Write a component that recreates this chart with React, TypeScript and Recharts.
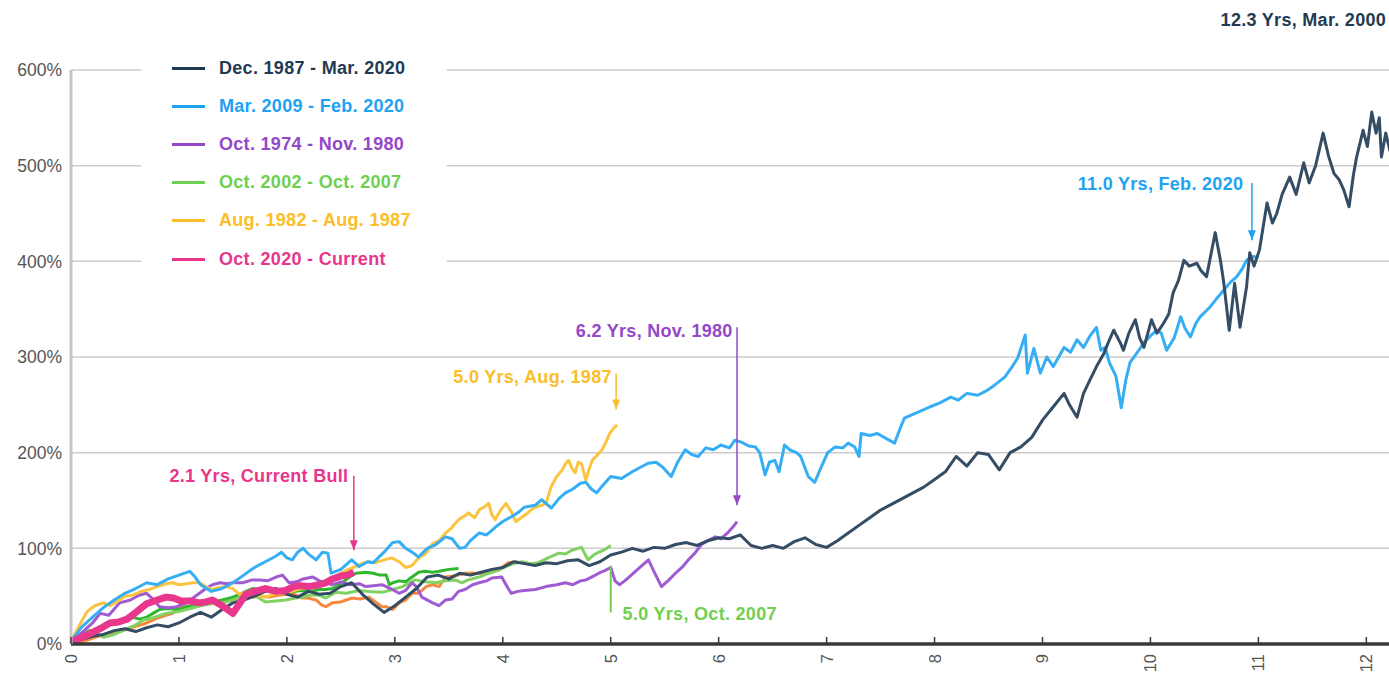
import { LineChart, Line, XAxis, YAxis, CartesianGrid, Legend, ReferenceLine, ReferenceDot } from 'recharts';

// [years into bull market, cumulative return %]
const navyPts: [number, number][] = [
  [0, 2], [0.1, 5], [0.2, 8], [0.3, 10], [0.4, 14], [0.5, 16], [0.6, 13], [0.7, 17], [0.8, 20], [0.9, 18],
  [1.0, 22], [1.1, 28], [1.2, 33], [1.3, 28], [1.4, 36], [1.5, 43], [1.6, 46], [1.7, 50], [1.8, 55], [1.9, 58],
  [2.0, 52], [2.1, 49], [2.2, 55], [2.3, 52], [2.4, 53], [2.5, 60], [2.6, 64], [2.7, 52], [2.8, 42], [2.9, 33],
  [3.0, 40], [3.1, 49], [3.2, 58], [3.3, 70], [3.4, 72], [3.5, 68], [3.6, 74], [3.7, 72], [3.8, 75], [3.9, 78],
  [4.0, 80], [4.1, 86], [4.2, 84], [4.3, 82], [4.4, 85], [4.5, 84], [4.6, 87], [4.7, 88], [4.8, 82], [4.9, 86],
  [5.0, 93], [5.1, 96], [5.2, 100], [5.3, 97], [5.4, 101], [5.5, 100], [5.6, 104], [5.7, 106], [5.8, 103], [5.9, 108],
  [6.0, 111], [6.1, 110], [6.2, 114], [6.3, 103], [6.4, 100], [6.5, 103], [6.6, 100], [6.7, 107], [6.8, 111], [6.9, 104],
  [7.0, 101], [7.1, 108], [7.2, 116], [7.3, 124], [7.4, 132], [7.5, 140], [7.6, 146], [7.7, 152], [7.8, 158], [7.9, 164],
  [8.0, 172], [8.1, 180], [8.2, 196], [8.3, 186], [8.4, 200], [8.5, 198], [8.6, 182], [8.7, 200], [8.8, 206], [8.9, 216],
  [9.0, 234], [9.1, 248], [9.2, 262], [9.25, 250], [9.32, 237], [9.38, 262], [9.44, 276], [9.5, 290], [9.57, 304],
  [9.62, 318], [9.66, 328], [9.72, 315], [9.75, 307], [9.8, 325], [9.86, 339], [9.9, 320], [9.94, 310], [10.01, 339],
  [10.06, 325], [10.12, 335], [10.17, 345], [10.21, 367], [10.26, 380], [10.31, 401], [10.36, 395], [10.43, 398],
  [10.47, 390], [10.52, 384], [10.6, 430], [10.65, 400], [10.68, 377], [10.73, 328], [10.78, 377], [10.83, 331],
  [10.89, 373], [10.92, 409], [10.96, 395], [11.01, 412], [11.08, 461], [11.13, 440], [11.17, 450], [11.22, 470],
  [11.29, 488], [11.35, 470], [11.42, 503], [11.47, 482], [11.53, 500], [11.6, 534], [11.65, 510], [11.7, 492],
  [11.75, 485], [11.79, 475], [11.84, 457], [11.88, 490], [11.91, 509], [11.97, 537], [12.01, 520], [12.05, 556],
  [12.09, 534], [12.12, 550], [12.14, 509], [12.18, 534], [12.22, 515],
];

const bluePts: [number, number][] = [
  [0, 3], [0.1, 18], [0.2, 28], [0.3, 38], [0.4, 46], [0.5, 53], [0.6, 58], [0.7, 64], [0.8, 62], [0.9, 68],
  [1.0, 72], [1.1, 76], [1.15, 70], [1.2, 62], [1.3, 55], [1.4, 58], [1.5, 64], [1.6, 72], [1.7, 80], [1.8, 86],
  [1.9, 92], [1.95, 96], [2.0, 90], [2.05, 88], [2.1, 96], [2.15, 100], [2.2, 94], [2.27, 88], [2.33, 96], [2.38, 95],
  [2.41, 74], [2.5, 78], [2.6, 88], [2.67, 81], [2.75, 86], [2.8, 85], [2.9, 96], [2.98, 106], [3.04, 107], [3.1, 100],
  [3.16, 96], [3.22, 91], [3.3, 100], [3.38, 104], [3.47, 112], [3.53, 110], [3.6, 100], [3.65, 101], [3.7, 108],
  [3.78, 116], [3.85, 114], [3.93, 122], [4.0, 128], [4.08, 133], [4.15, 138], [4.2, 143], [4.3, 145], [4.36, 151],
  [4.45, 142], [4.52, 152], [4.58, 158], [4.65, 162], [4.72, 168], [4.77, 169], [4.82, 162], [4.87, 158], [4.92, 165],
  [5.0, 175], [5.1, 173], [5.2, 180], [5.28, 185], [5.35, 189], [5.42, 190], [5.48, 185], [5.56, 175], [5.62, 190],
  [5.69, 203], [5.75, 198], [5.81, 196], [5.88, 205], [5.95, 203], [6.02, 208], [6.1, 205], [6.15, 213], [6.21, 211],
  [6.28, 207], [6.34, 206], [6.38, 200], [6.43, 177], [6.47, 190], [6.52, 192], [6.56, 180], [6.61, 208], [6.66, 203],
  [6.72, 200], [6.76, 196], [6.83, 175], [6.89, 169], [6.95, 185], [7.01, 200], [7.08, 206], [7.15, 205], [7.2, 210],
  [7.26, 206], [7.3, 196], [7.32, 220], [7.4, 218], [7.47, 220], [7.55, 215], [7.63, 210], [7.68, 225], [7.72, 236],
  [7.8, 240], [7.88, 244], [7.96, 248], [8.05, 252], [8.15, 258], [8.22, 255], [8.3, 262], [8.4, 260], [8.47, 264],
  [8.55, 270], [8.65, 279], [8.72, 290], [8.77, 299], [8.84, 323], [8.86, 283], [8.92, 309], [8.98, 283], [9.04, 300],
  [9.1, 290], [9.2, 310], [9.26, 305], [9.32, 318], [9.38, 310], [9.44, 322], [9.5, 331], [9.54, 307], [9.58, 310],
  [9.62, 294], [9.68, 280], [9.73, 247], [9.77, 275], [9.81, 294], [9.88, 305], [9.94, 315], [10.0, 322], [10.06, 328],
  [10.1, 325], [10.15, 307], [10.22, 320], [10.28, 342], [10.32, 330], [10.37, 321], [10.42, 335], [10.46, 342],
  [10.55, 352], [10.62, 362], [10.68, 370], [10.74, 378], [10.8, 384], [10.85, 392], [10.89, 401], [10.95, 405], [11.0, 404],
];

const purplePts: [number, number][] = [
  [0, 2], [0.1, 12], [0.2, 22], [0.27, 32], [0.35, 30], [0.45, 43], [0.55, 46], [0.63, 51], [0.7, 53], [0.76, 47],
  [0.82, 39], [0.9, 38], [0.98, 39], [1.07, 43], [1.13, 48], [1.19, 53], [1.25, 58], [1.31, 62], [1.38, 64], [1.45, 63],
  [1.5, 64], [1.59, 64], [1.68, 67], [1.75, 67], [1.82, 66], [1.9, 70], [1.96, 72], [2.02, 64], [2.09, 65], [2.15, 68],
  [2.24, 70], [2.3, 66], [2.36, 64], [2.42, 62], [2.5, 65], [2.58, 62], [2.67, 63], [2.73, 60], [2.8, 61], [2.88, 62],
  [2.96, 58], [3.04, 53], [3.1, 56], [3.16, 64], [3.2, 60], [3.25, 49], [3.35, 43], [3.41, 40], [3.47, 46], [3.53, 47],
  [3.59, 55], [3.65, 57], [3.72, 62], [3.78, 64], [3.85, 66], [3.9, 69], [3.99, 70], [4.05, 58], [4.08, 53], [4.14, 55],
  [4.2, 56], [4.3, 57], [4.4, 60], [4.5, 62], [4.58, 64], [4.65, 62], [4.72, 66], [4.77, 67], [4.84, 71], [4.89, 74],
  [4.95, 77], [5.0, 80], [5.04, 66], [5.08, 62], [5.13, 66], [5.19, 72], [5.27, 80], [5.35, 88], [5.4, 76], [5.47, 60],
  [5.53, 66], [5.6, 74], [5.66, 80], [5.72, 88], [5.78, 95], [5.84, 104], [5.9, 108], [5.97, 112], [6.02, 110],
  [6.09, 117], [6.13, 122], [6.17, 128],
];

const lightGreenPts: [number, number][] = [
  [0, 2], [0.1, 10], [0.2, 14], [0.3, 7], [0.4, 10], [0.52, 16], [0.6, 20], [0.67, 25], [0.75, 27], [0.88, 32],
  [1.0, 34], [1.07, 36], [1.2, 40], [1.3, 42], [1.44, 44], [1.5, 46], [1.6, 50], [1.68, 53], [1.74, 48], [1.8, 44],
  [1.9, 45], [1.99, 46], [2.08, 48], [2.15, 49], [2.2, 51], [2.3, 51], [2.36, 48], [2.45, 54], [2.55, 53], [2.67, 56],
  [2.76, 55], [2.88, 54], [2.98, 57], [3.07, 60], [3.19, 67], [3.28, 65], [3.38, 64], [3.47, 66], [3.56, 67], [3.62, 64],
  [3.68, 67], [3.78, 70], [3.87, 74], [3.95, 77], [4.03, 81], [4.1, 84], [4.18, 86], [4.25, 84], [4.33, 85], [4.42, 90],
  [4.52, 95], [4.58, 94], [4.64, 98], [4.73, 101], [4.77, 92], [4.79, 88], [4.84, 93], [4.89, 96], [4.95, 99], [5.0, 103],
];

const yellowPts: [number, number][] = [
  [0, 3], [0.08, 20], [0.15, 34], [0.22, 40], [0.3, 43], [0.36, 40], [0.42, 44], [0.5, 50], [0.57, 51], [0.65, 55],
  [0.73, 57], [0.8, 60], [0.88, 63], [0.94, 64], [1.0, 62], [1.07, 63], [1.13, 64], [1.19, 64], [1.25, 60], [1.3, 57],
  [1.38, 59], [1.44, 60], [1.5, 58], [1.56, 52], [1.62, 54], [1.68, 53], [1.75, 50], [1.8, 49], [1.88, 52], [1.95, 53],
  [2.02, 54], [2.1, 57], [2.15, 58], [2.25, 62], [2.33, 64], [2.4, 67], [2.47, 72], [2.55, 77], [2.62, 80], [2.67, 83],
  [2.75, 86], [2.82, 85], [2.9, 88], [2.97, 90], [3.04, 86], [3.1, 80], [3.16, 82], [3.22, 90], [3.29, 95], [3.35, 105],
  [3.41, 108], [3.47, 116], [3.53, 122], [3.59, 130], [3.65, 134], [3.68, 137], [3.74, 132], [3.78, 140], [3.84, 144],
  [3.87, 147], [3.9, 135], [3.93, 130], [3.98, 140], [4.03, 147], [4.08, 138], [4.12, 128], [4.17, 132], [4.21, 135],
  [4.26, 140], [4.3, 143], [4.36, 145], [4.4, 147], [4.45, 165], [4.5, 175], [4.55, 182], [4.58, 188], [4.61, 192],
  [4.64, 184], [4.67, 179], [4.7, 190], [4.73, 188], [4.77, 171], [4.8, 183], [4.83, 192], [4.88, 198], [4.92, 203],
  [4.96, 212], [4.99, 220], [5.03, 226], [5.06, 229],
];

const orangePts: [number, number][] = [
  [0.05, 0], [0.15, 4], [0.25, 8], [0.35, 11], [0.45, 13], [0.55, 17], [0.62, 19], [0.7, 22], [0.8, 27], [0.88, 30],
  [0.94, 32], [1.0, 38], [1.07, 39], [1.13, 40], [1.2, 42], [1.31, 46], [1.38, 44], [1.47, 47], [1.55, 49], [1.62, 51],
  [1.68, 49], [1.75, 50], [1.84, 49], [1.92, 51], [2.0, 52], [2.05, 53], [2.14, 48], [2.2, 48], [2.27, 46], [2.32, 41],
  [2.36, 39], [2.42, 43], [2.5, 44], [2.55, 46], [2.6, 48], [2.68, 47], [2.76, 49], [2.82, 44], [2.88, 39], [2.92, 39],
  [2.98, 36], [3.04, 43], [3.1, 46], [3.16, 53], [3.22, 53], [3.29, 60], [3.35, 62], [3.41, 60], [3.47, 70], [3.55, 71],
  [3.65, 74], [3.75, 74], [3.85, 74], [3.96, 77], [4.05, 85], [4.14, 86],
];

const greenPts: [number, number][] = [
  [0, 2], [0.05, 6], [0.1, 10], [0.17, 14], [0.22, 12], [0.27, 18], [0.35, 20], [0.45, 22], [0.52, 24], [0.57, 28],
  [0.64, 26], [0.7, 28], [0.76, 32], [0.82, 36], [0.9, 37], [1.0, 36], [1.07, 39], [1.15, 40], [1.22, 42], [1.31, 44],
  [1.4, 46], [1.5, 49], [1.58, 53], [1.68, 58], [1.75, 57], [1.8, 56], [1.88, 54], [1.99, 53], [2.07, 55], [2.15, 56],
  [2.22, 55], [2.3, 57], [2.36, 57], [2.42, 58], [2.5, 63], [2.58, 70], [2.64, 74], [2.73, 75], [2.8, 74], [2.86, 72],
  [2.92, 72], [2.95, 62], [2.98, 64], [3.04, 66], [3.1, 65], [3.16, 70], [3.22, 75], [3.28, 76], [3.35, 75], [3.41, 76],
  [3.5, 78], [3.59, 79],
];

const pinkPts: [number, number][] = [
  [0, 3], [0.08, 6], [0.18, 11], [0.27, 16], [0.36, 22], [0.44, 23], [0.52, 26], [0.6, 33], [0.7, 42], [0.8, 46],
  [0.88, 49], [0.95, 48], [1.02, 45], [1.1, 45], [1.19, 43], [1.25, 44], [1.31, 46], [1.4, 40], [1.5, 32], [1.56, 42],
  [1.62, 52], [1.7, 55], [1.8, 58], [1.9, 55], [1.99, 56], [2.06, 60], [2.12, 61], [2.2, 60], [2.3, 62], [2.36, 64],
  [2.42, 68], [2.5, 71], [2.56, 72], [2.62, 75],
];

const xTicks = [0, 1, 2, 3, 4, 5, 6, 7, 8, 9, 10, 11, 12];
const yTicks = [0, 100, 200, 300, 400, 500, 600];

// drawn bottom to top
const series = [
  { key: 'orange', pts: orangePts, color: '#f7883c', width: 3 },
  { key: 'green', pts: greenPts, color: '#2fb82f', width: 3 },
  { key: 'lightgreen', pts: lightGreenPts, color: '#80d262', width: 3 },
  { key: 'purple', pts: purplePts, color: '#a05bd2', width: 3 },
  { key: 'yellow', pts: yellowPts, color: '#fcc43e', width: 3 },
  { key: 'blue', pts: bluePts, color: '#36aef5', width: 3 },
  { key: 'navy', pts: navyPts, color: '#344d64', width: 3 },
  { key: 'pink', pts: pinkPts, color: '#e8378d', width: 7 },
];

const legendItems = [
  { name: 'Dec. 1987 - Mar. 2020', line: '#1f3a52', text: '#1f3a52' },
  { name: 'Mar. 2009 - Feb. 2020', line: '#1ea2f2', text: '#1ea2f2' },
  { name: 'Oct. 1974 - Nov. 1980', line: '#9448c8', text: '#9448c8' },
  { name: 'Oct. 2002 - Oct. 2007', line: '#6fd04f', text: '#6fd04f' },
  { name: 'Aug. 1982 - Aug. 1987', line: '#fbbd28', text: '#fbbd28' },
  { name: 'Oct. 2020 - Current', line: '#e8358c', text: '#e8358c' },
];

const notes = [
  { text: '12.3 Yrs, Mar. 2000', t: 10.65, v: 652, anchor: 'start', color: '#1f3a52' },
  { text: '11.0 Yrs, Feb. 2020', t: 10.86, v: 481, anchor: 'end', color: '#1ea2f2' },
  { text: '6.2 Yrs, Nov. 1980', t: 6.13, v: 327, anchor: 'end', color: '#9448c8' },
  { text: '5.0 Yrs, Aug. 1987', t: 5.01, v: 279, anchor: 'end', color: '#fbbd28' },
  { text: '2.1 Yrs, Current Bull', t: 2.57, v: 176, anchor: 'end', color: '#e8358c' },
  { text: '5.0 Yrs, Oct. 2007', t: 5.11, v: 31, anchor: 'start', color: '#6fd04f' },
];

const arrows = [
  { t: 10.94, from: 482, to: 422, color: '#1ea2f2', head: true },
  { t: 6.17, from: 331, to: 145, color: '#9448c8', head: true },
  { t: 5.05, from: 283, to: 245, color: '#fbbd28', head: true },
  { t: 2.62, from: 176, to: 98, color: '#e8358c', head: true },
  { t: 5.0, from: 82, to: 33, color: '#6fd04f', head: false },
];

const toRows = (pts: [number, number][]) => pts.map(([t, v]) => ({ t, v }));

const FONT = '"Liberation Sans", Arial, Helvetica, sans-serif';

function XTick(props: any) {
  const { x, y, payload } = props;
  return (
    <g>
      <line x1={x} y1={y - 7} x2={x} y2={y} stroke="#3a3a3a" strokeWidth={1.5} />
      <text
        x={x}
        y={y + 10}
        transform={`rotate(-90, ${x}, ${y + 10})`}
        textAnchor="end"
        dominantBaseline="central"
        fill="#555"
        fontSize={16.5}
        fontFamily={FONT}
      >
        {payload.value}
      </text>
    </g>
  );
}

function LegendBox() {
  return (
    <div style={{ background: '#fff', width: 306, fontFamily: FONT }}>
      {legendItems.map((it) => (
        <div key={it.name} style={{ display: 'flex', alignItems: 'center', height: 38.2 }}>
          <div style={{ width: 33, height: 3, background: it.line, marginLeft: 31, marginRight: 14 }} />
          <span style={{ color: it.text, fontWeight: 'bold', fontSize: 18, letterSpacing: 0.3, whiteSpace: 'nowrap' }}>
            {it.name}
          </span>
        </div>
      ))}
    </div>
  );
}

export default function App() {
  return (
    <div style={{ position: 'absolute', left: 0, top: 0, width: 1389, height: 677, background: '#fff', fontFamily: FONT }}>
      <LineChart width={1389} height={677} margin={{ top: 70, right: 0, left: 0, bottom: 0 }}>
        <CartesianGrid vertical={false} stroke="#cccccc" strokeWidth={1.5} />
        <XAxis
          dataKey="t"
          type="number"
          domain={[0, 12.21]}
          allowDataOverflow
          ticks={xTicks}
          interval={0}
          height={33}
          tickSize={0}
          tickMargin={0}
          tickLine={false}
          axisLine={{ stroke: '#3a3a3a', strokeWidth: 3.5 }}
          tick={(p: any) => <XTick {...p} />}
        />
        <YAxis
          type="number"
          domain={[0, 600]}
          ticks={yTicks}
          width={71}
          tickSize={0}
          tickMargin={9}
          tickLine={false}
          axisLine={{ stroke: '#c6c6c6', strokeWidth: 3 }}
          tickFormatter={(v: number) => `${v}%`}
          tick={{ fill: '#555', fontSize: 17.5, fontFamily: FONT }}
        />
        <Legend
          layout="vertical"
          align="center"
          verticalAlign="middle"
          content={() => <LegendBox />}
          wrapperStyle={{ position: 'absolute', left: 141, top: 49, width: 306 }}
        />
        {series.map((s) => (
          <Line
            key={s.key}
            data={toRows(s.pts)}
            dataKey="v"
            type="linear"
            stroke={s.color}
            strokeWidth={s.width}
            strokeLinejoin="round"
            dot={false}
            activeDot={false}
            legendType="none"
            isAnimationActive={false}
          />
        ))}
        {arrows.map((a, i) => (
          <ReferenceLine
            key={`a${i}`}
            segment={[{ x: a.t, y: a.from }, { x: a.t, y: a.to }]}
            stroke={a.color}
            strokeWidth={a.head ? 1.5 : 2}
            ifOverflow="visible"
          />
        ))}
        {arrows.filter((a) => a.head).map((a, i) => (
          <ReferenceDot
            key={`h${i}`}
            x={a.t}
            y={a.to}
            r={0}
            ifOverflow="visible"
            shape={(p: any) => (
              <path d={`M${p.cx - 4},${p.cy - 10} L${p.cx + 4},${p.cy - 10} L${p.cx},${p.cy} Z`} fill={a.color} />
            )}
          />
        ))}
        {notes.map((n, i) => (
          <ReferenceDot
            key={`n${i}`}
            x={n.t}
            y={n.v}
            r={0}
            ifOverflow="visible"
            shape={(p: any) => (
              <text
                x={p.cx}
                y={p.cy}
                textAnchor={n.anchor}
                dominantBaseline="central"
                fill={n.color}
                fontSize={18}
                fontWeight="bold"
                letterSpacing={0.3}
                fontFamily={FONT}
              >
                {n.text}
              </text>
            )}
          />
        ))}
      </LineChart>
    </div>
  );
}
